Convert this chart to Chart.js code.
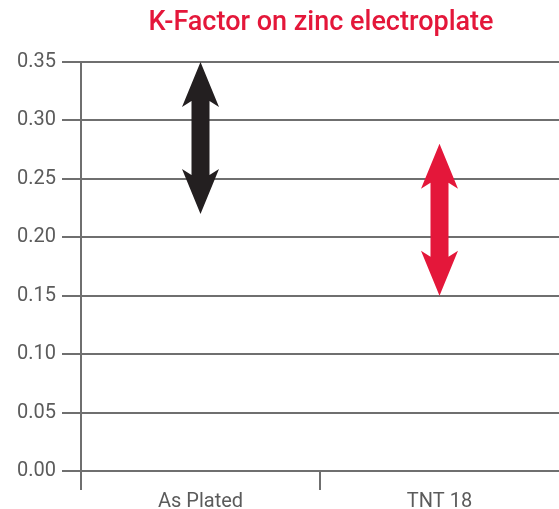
<!DOCTYPE html>
<html>
<head>
<meta charset="utf-8">
<script src="https://cdn.jsdelivr.net/npm/chart.js@4/dist/chart.umd.min.js"></script>
<style>
  html, body { margin: 0; padding: 0; background: #fff; }
  #wrap { width: 559px; height: 509px; }
</style>
</head>
<body>
<div id="wrap"><canvas id="kChart"></canvas></div>
<script>
var categories = ["As Plated", "TNT 18"];
var kLow = [0.22, 0.15];
var kHigh = [0.35, 0.28];
var arrowColors = ["#231f20", "#e4173a"];
var yTicks = [0.00, 0.05, 0.10, 0.15, 0.20, 0.25, 0.30, 0.35];
var titleText = "K-Factor on zinc electroplate";

var gridColor = "#6f6f6f";
var labelColor = "#5b5b5b";

// draw a double headed arrow in place of each floating bar
var arrowPlugin = {
  id: "arrows",
  afterDatasetsDraw: function (chart) {
    var ctx = chart.ctx;
    var meta = chart.getDatasetMeta(0);
    meta.data.forEach(function (bar, i) {
      var p = bar.getProps(["x", "y", "base"], true);
      var top = Math.min(p.y, p.base), bot = Math.max(p.y, p.base);
      var shaft = 9, head = 18.5, headLen = 45;
      ctx.save();
      ctx.fillStyle = arrowColors[i];
      ctx.beginPath();
      ctx.moveTo(p.x, top);
      ctx.lineTo(p.x + head, top + headLen);
      ctx.lineTo(p.x + shaft, top + headLen - 6);
      ctx.lineTo(p.x + shaft, bot - headLen + 6);
      ctx.lineTo(p.x + head, bot - headLen);
      ctx.lineTo(p.x, bot);
      ctx.lineTo(p.x - head, bot - headLen);
      ctx.lineTo(p.x - shaft, bot - headLen + 6);
      ctx.lineTo(p.x - shaft, top + headLen - 6);
      ctx.lineTo(p.x - head, top + headLen);
      ctx.closePath();
      ctx.fill();
      ctx.restore();
    });
  }
};

// title centred over the plot area
var titlePlugin = {
  id: "plotTitle",
  afterDraw: function (chart) {
    var ctx = chart.ctx;
    var area = chart.chartArea;
    ctx.save();
    ctx.font = "500 27px Roboto";
    ctx.fillStyle = "#e4173a";
    ctx.textAlign = "center";
    ctx.textBaseline = "middle";
    ctx.fillText(titleText, (area.left + area.right) / 2 + 1, 23);
    ctx.restore();
  }
};

var ctx = document.getElementById("kChart").getContext("2d");
var chart = new Chart(ctx, {
  type: "bar",
  data: {
    labels: categories,
    datasets: [{
      data: kLow.map(function (v, i) { return [v, kHigh[i]]; }),
      backgroundColor: "rgba(0,0,0,0)",
      borderWidth: 0,
      barPercentage: 0.2
    }]
  },
  options: {
    responsive: true,
    maintainAspectRatio: false,
    animation: false,
    layout: { padding: { top: 62, right: 0, left: 0, bottom: 0 } },
    plugins: {
      legend: { display: false },
      tooltip: { enabled: false },
      title: { display: false }
    },
    scales: {
      x: {
        offset: true,
        grid: {
          offset: true,
          drawOnChartArea: false,
          drawTicks: true,
          tickLength: 19,
          // the right-hand boundary falls off the page in the original
          color: function (c) { return c.type === "tick" ? gridColor : "rgba(0,0,0,0)"; },
          lineWidth: 2
        },
        border: { display: false },
        ticks: {
          color: labelColor,
          padding: 0,
          font: { family: "Roboto", size: 20 }
        },
        afterFit: function (scale) { scale.height = 38; }
      },
      y: {
        min: 0,
        max: 0.35,
        afterBuildTicks: function (scale) {
          scale.ticks = yTicks.map(function (v) { return { value: v }; });
        },
        grid: {
          color: gridColor,
          lineWidth: 2,
          tickLength: 19
        },
        border: { display: true, color: gridColor, width: 2 },
        ticks: {
          color: labelColor,
          padding: 6,
          font: { family: "Roboto", size: 20 },
          callback: function (v) { return Number(v).toFixed(2); }
        },
        afterFit: function (scale) { scale.width = 81; }
      }
    }
  },
  plugins: [arrowPlugin, titlePlugin]
});
</script>
</body>
</html>
